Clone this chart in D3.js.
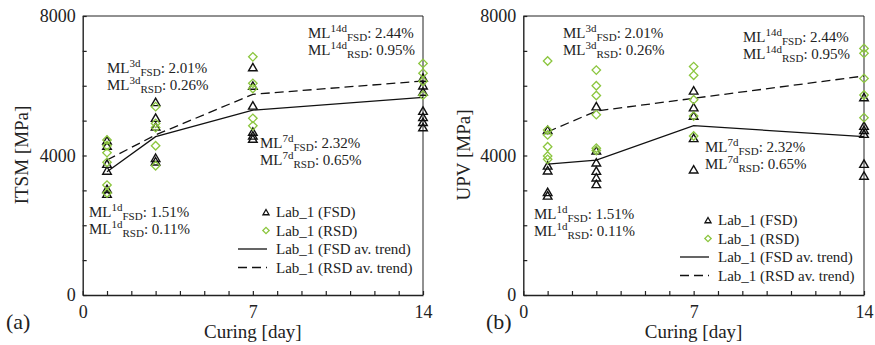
<!doctype html>
<html>
<head>
<meta charset="utf-8">
<title>ITSM and UPV vs curing</title>
<script src="https://cdnjs.cloudflare.com/ajax/libs/d3/7.8.5/d3.min.js"></script>
<style>
  body { margin: 0; background: #fff; }
  svg text { font-family: "Liberation Serif", "Times New Roman", serif; fill: #222; }
</style>
</head>
<body>
<div id="chart"></div>
<script>
// curing days
const days = [1, 3, 7, 14];

// ITSM [MPa] specimens, one inner array per curing day
const itsmFsd = [[4400, 4250, 3730, 3535, 3010, 2870], [5500, 5050, 4800, 3900, 3800], [6500, 5970, 5400, 4650, 4540, 4450], [6200, 5980, 5800, 5250, 5070, 4930, 4780]];
const itsmRsd = [[4444, 4280, 4080, 3804, 3153, 2924], [5400, 4920, 4800, 4280, 3707], [6830, 6070, 5920, 5065, 4850], [6640, 6360, 6130, 5730]];
const itsmFsdTrend = [3535, 4540, 5300, 5667];
const itsmRsdTrend = [3870, 4590, 5754, 6135];

// UPV [MPa]
const upvFsd = [[4700, 3680, 3540, 2920, 2820], [5380, 4110, 3770, 3530, 3340, 3150], [5830, 5350, 5110, 4470, 3570], [5640, 4820, 4700, 4590, 3730, 3390]];
const upvRsd = [[6710, 4730, 4590, 4250, 3985, 3890], [6450, 6000, 5720, 5170, 4210, 4140], [6550, 6300, 5600, 5130, 4560], [7070, 6930, 6210, 5735, 5085]];
const upvFsdTrend = [3755, 3870, 4855, 4540];
const upvRsdTrend = [4680, 5275, 5640, 6280];

// mass loss labels
const mlDays = ['1d', '3d', '7d', '14d'];
const mlFsd = ['1.51%', '2.01%', '2.32%', '2.44%'];
const mlRsd = ['0.11%', '0.26%', '0.65%', '0.95%'];

const legendLabels = ['Lab_1 (FSD)', 'Lab_1 (RSD)', 'Lab_1 (FSD av. trend)', 'Lab_1 (RSD av. trend)'];

const green = '#8cc63f';

const svg = d3.select('#chart').append('svg')
  .attr('width', 875)
  .attr('height', 345);

const tri = d3.symbol().type(d3.symbolTriangle).size(32);
const dia = d3.symbol().type(d3.symbolSquare).size(36);

function drawPanel(p) {
  const x = d3.scaleLinear().domain([0, 14]).range([p.x0, p.x1]);
  const y = d3.scaleLinear().domain([0, 8000]).range([295, 16]);
  const g = svg.append('g');

  // frame (top + right)
  g.append('path')
    .attr('d', `M${p.x0},16H${p.x1}V295`)
    .attr('fill', 'none').attr('stroke', '#222').attr('stroke-width', 1);

  const yAxis = g.append('g')
    .attr('transform', `translate(${p.x0},0)`)
    .call(d3.axisLeft(y).tickValues(d3.range(0, 8001, 1000))
      .tickSize(-4).tickSizeOuter(0).tickPadding(7)
      .tickFormat(d => d % 4000 === 0 ? d : ''));
  const xAxis = g.append('g')
    .attr('transform', 'translate(0,295)')
    .call(d3.axisBottom(x).tickValues(d3.range(0, 15))
      .tickSize(-4).tickSizeOuter(0).tickPadding(10)
      .tickFormat(d => (d === 0 || d === 7 || d === 14) ? d : ''));
  [yAxis, xAxis].forEach(a => {
    a.selectAll('text').style('font-size', '18px').style('font-family', '"Liberation Serif", serif').attr('fill', '#222');
    a.selectAll('line').attr('stroke', '#222').attr('stroke-width', 1.2);
    a.select('.domain').attr('stroke', '#222').attr('stroke-width', 1.4);
  });

  g.append('text')
    .attr('transform', `translate(${p.ylabX},155) rotate(-90)`)
    .attr('text-anchor', 'middle')
    .style('font-size', '19px')
    .text(p.ylabel);
  g.append('text')
    .attr('x', x(7)).attr('y', 338)
    .attr('text-anchor', 'middle')
    .style('font-size', '19px')
    .text('Curing [day]');
  g.append('text')
    .attr('x', p.tagX).attr('y', 329)
    .style('font-size', '22px')
    .text(p.tag);

  // trend lines
  const line = d3.line().x((d, i) => x(days[i])).y(d => y(d));
  g.append('path').datum(p.fsdTrend)
    .attr('d', line).attr('fill', 'none').attr('stroke', '#111').attr('stroke-width', 1.3);
  g.append('path').datum(p.rsdTrend)
    .attr('d', line).attr('fill', 'none').attr('stroke', '#111').attr('stroke-width', 1.3)
    .attr('stroke-dasharray', '9,5');

  // points
  const fsdPts = p.fsd.flatMap((arr, i) => arr.map(v => [days[i], v]));
  const rsdPts = p.rsd.flatMap((arr, i) => arr.map(v => [days[i], v]));
  g.selectAll('path.tri').data(fsdPts).join('path').attr('class', 'tri')
    .attr('d', tri)
    .attr('transform', d => `translate(${x(d[0])},${y(d[1])})`)
    .attr('fill', 'none').attr('stroke', '#111').attr('stroke-width', 1.4);
  g.selectAll('path.dia').data(rsdPts).join('path').attr('class', 'dia')
    .attr('d', dia)
    .attr('transform', d => `translate(${x(d[0])},${y(d[1])}) rotate(45)`)
    .attr('fill', 'none').attr('stroke', green).attr('stroke-width', 1.3);

  // mass loss annotations
  p.ml.forEach((pos, i) => {
    [[mlFsd[i], 'FSD'], [mlRsd[i], 'RSD']].forEach((row, j) => {
      const t = g.append('text')
        .attr('x', pos[0]).attr('y', pos[1] + j * 17)
        .style('font-size', '15px');
      t.append('tspan').text('ML');
      t.append('tspan').attr('dy', -6).style('font-size', '11px').text(mlDays[i]);
      t.append('tspan').attr('dy', 9).style('font-size', '11px').text(row[1]);
      t.append('tspan').attr('dy', -3).text(': ' + row[0]);
    });
  });

  // legend
  const lg = g.append('g');
  const lx = p.legend[0], ly = p.legend[1], step = 18.5;
  legendLabels.forEach((lab, i) => {
    lg.append('text').attr('x', lx + 10).attr('y', ly + i * step)
      .style('font-size', '15px').text(lab);
  });
  lg.append('path').attr('d', d3.symbol().type(d3.symbolTriangle).size(16))
    .attr('transform', `translate(${lx},${ly - 4})`)
    .attr('fill', 'none').attr('stroke', '#111').attr('stroke-width', 1.3);
  lg.append('path').attr('d', d3.symbol().type(d3.symbolSquare).size(20))
    .attr('transform', `translate(${lx},${ly + step - 5}) rotate(45)`)
    .attr('fill', 'none').attr('stroke', green).attr('stroke-width', 1.3);
  lg.append('line').attr('x1', lx - 28).attr('x2', lx + 1)
    .attr('y1', ly + 2 * step - 5).attr('y2', ly + 2 * step - 5)
    .attr('stroke', '#111').attr('stroke-width', 1.3);
  lg.append('line').attr('x1', lx - 28).attr('x2', lx + 1)
    .attr('y1', ly + 3 * step - 5).attr('y2', ly + 3 * step - 5)
    .attr('stroke', '#111').attr('stroke-width', 1.3).attr('stroke-dasharray', '9,5');
}

drawPanel({
  x0: 82.7, x1: 423, ylabX: 28, ylabel: 'ITSM [MPa]', tag: '(a)', tagX: 6,
  fsd: itsmFsd, rsd: itsmRsd, fsdTrend: itsmFsdTrend, rsdTrend: itsmRsdTrend,
  ml: [[89, 217], [107, 73], [260, 148], [308, 38]],
  legend: [266, 217]
});

drawPanel({
  x0: 523.3, x1: 864, ylabX: 470, ylabel: 'UPV [MPa]', tag: '(b)', tagX: 486,
  fsd: upvFsd, rsd: upvRsd, fsdTrend: upvFsdTrend, rsdTrend: upvRsdTrend,
  ml: [[534, 219], [563, 38], [705, 152], [743, 42]],
  legend: [708, 225]
});
</script>
</body>
</html>
